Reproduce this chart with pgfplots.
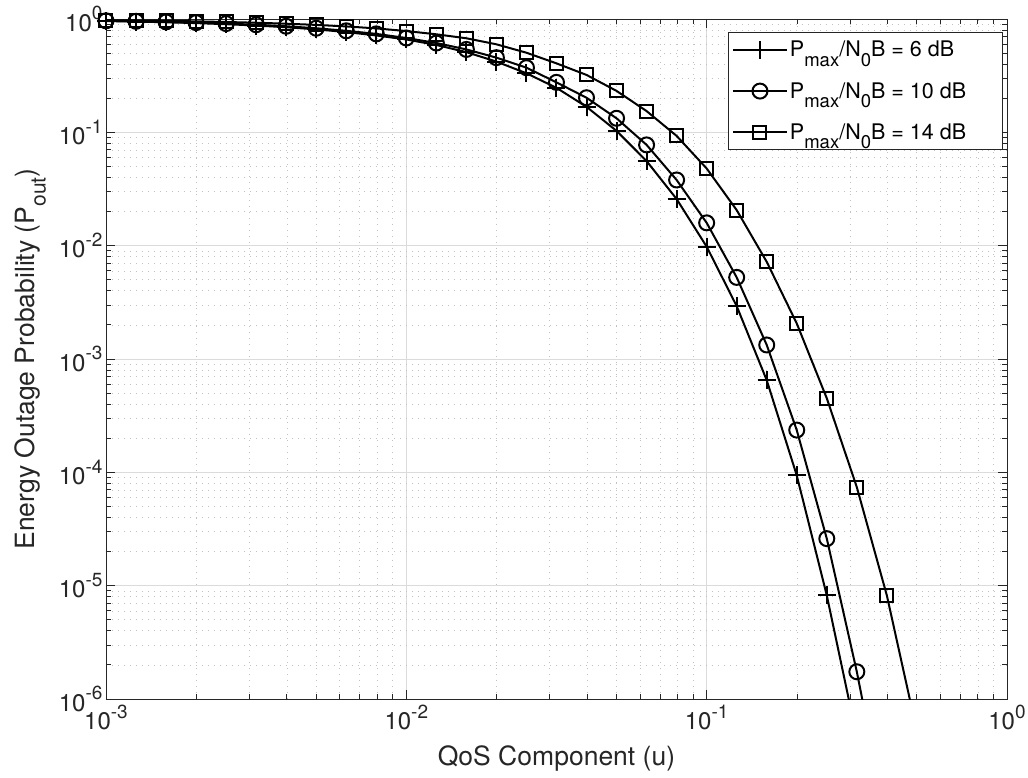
\documentclass[border=0pt]{standalone}
\usepackage{fontspec}
\setmainfont{TeX Gyre Heros}
\usepackage{pgfplots}
\usepackage{pgfplotstable}
\pgfplotsset{compat=1.18}
\definecolor{axc}{RGB}{38,38,38}
\newcommand{\tl}[1]{10\raisebox{0.48em}{\fontsize{19}{19}\selectfont #1}}
\newcommand{\lsub}[1]{\raisebox{-0.42em}{\fontsize{18.5}{18.5}\selectfont #1}}
\newcommand{\ysub}[1]{\raisebox{-0.42em}{\fontsize{21}{21}\selectfont #1}}

\pgfplotstableread{
u p
0.001 0.959
0.0012589 0.948
0.0015849 0.936
0.0019953 0.920
0.0025119 0.900
0.0031623 0.876
0.0039811 0.846
0.0050119 0.810
0.0063096 0.767
0.0079433 0.716
0.01 0.660
0.012589 0.590
0.015849 0.510
0.019953 0.421
0.025119 0.332
0.031623 0.247
0.039811 0.168
0.050119 0.103
0.063096 0.0558
0.079433 0.0258
0.1 0.0098
0.12589 0.00293
0.15849 6.5e-4
0.19953 9.4e-5
0.25119 8.2e-6
0.31623 4.6e-7
}\dataA

\pgfplotstableread{
u p
0.001 0.964
0.0012589 0.954
0.0015849 0.943
0.0019953 0.929
0.0025119 0.911
0.0031623 0.890
0.0039811 0.863
0.0050119 0.829
0.0063096 0.787
0.0079433 0.739
0.01 0.680
0.012589 0.614
0.015849 0.539
0.019953 0.456
0.025119 0.372
0.031623 0.276
0.039811 0.202
0.050119 0.133
0.063096 0.0775
0.079433 0.038
0.1 0.0159
0.12589 0.00525
0.15849 0.00133
0.19953 2.36e-4
0.25119 2.6e-5
0.31623 1.74e-6
0.39811 8e-8
}\dataB

\pgfplotstableread{
u p
0.001 0.976
0.0012589 0.970
0.0015849 0.963
0.0019953 0.953
0.0025119 0.941
0.0031623 0.927
0.0039811 0.909
0.0050119 0.887
0.0063096 0.860
0.0079433 0.826
0.01 0.783
0.012589 0.733
0.015849 0.676
0.019953 0.598
0.025119 0.504
0.031623 0.406
0.039811 0.321
0.050119 0.232
0.063096 0.154
0.079433 0.093
0.1 0.048
0.12589 0.0206
0.15849 0.0072
0.19953 0.00206
0.25119 4.5e-4
0.31623 7.4e-5
0.39811 8.2e-6
0.50119 5.2e-7
}\dataC

\begin{document}
\begin{tikzpicture}
\begin{loglogaxis}[
  scale only axis, width=901pt, height=680pt,
  xmin=1e-3, xmax=1, ymin=1e-6, ymax=1,
  xtick={1e-3,1e-2,1e-1,1},
  xticklabels={\tl{-3},\tl{-2},\tl{-1},\tl{0}},
  ytick={1e-6,1e-5,1e-4,1e-3,1e-2,1e-1,1},
  yticklabels={\tl{-6},\tl{-5},\tl{-4},\tl{-3},\tl{-2},\tl{-1},\tl{0}},
  minor xtick={0.002,0.003,0.004,0.005,0.006,0.007,0.008,0.009,
    0.02,0.03,0.04,0.05,0.06,0.07,0.08,0.09,
    0.2,0.3,0.4,0.5,0.6,0.7,0.8,0.9},
  minor ytick={2e-6,3e-6,4e-6,5e-6,6e-6,7e-6,8e-6,9e-6,
    2e-5,3e-5,4e-5,5e-5,6e-5,7e-5,8e-5,9e-5,
    2e-4,3e-4,4e-4,5e-4,6e-4,7e-4,8e-4,9e-4,
    2e-3,3e-3,4e-3,5e-3,6e-3,7e-3,8e-3,9e-3,
    2e-2,3e-2,4e-2,5e-2,6e-2,7e-2,8e-2,9e-2,
    0.2,0.3,0.4,0.5,0.6,0.7,0.8,0.9},
  tick align=inside,
  major tick length=9pt, minor tick length=5pt,
  every tick/.style={axc, line width=0.8pt},
  axis line style={axc, line width=0.8pt},
  grid=both,
  major grid style={black!14, line width=0.7pt, solid},
  minor grid style={black!24, line width=0.6pt, dash pattern=on 1pt off 5pt},
  tick label style={font=\fontsize{24}{24}\selectfont, text=axc},
  xticklabel style={yshift=-2pt},
  label style={font=\fontsize{26.5}{26.5}\selectfont, text=axc},
  xlabel shift=9pt,
  ylabel shift=6pt,
  xlabel={QoS Component (u)},
  ylabel={Energy Outage Probability (P\ysub{out})},
  legend style={at={(0.995,0.981)}, anchor=north east, draw=axc, line width=0.8pt,
    fill=white, font=\fontsize{21.5}{21.5}\selectfont, text=black,
    inner xsep=4pt, inner ysep=7pt, row sep=20pt},
  legend cell align=left,
]
\addplot[black, line width=2pt,
  legend image code/.code={\draw[black, line width=2pt, mark=+, mark size=9pt, mark repeat=2, mark phase=2]
    plot coordinates {(0pt,0pt)(27pt,0pt)(54pt,0pt)};}]
  table[x=u,y=p]{\dataA};
\addlegendentry{P\lsub{max}/N\lsub{0}B = 6 dB\hspace*{30pt}}
\addplot[black, line width=2pt,
  legend image code/.code={\draw[black, line width=2pt, mark=o, mark size=7.5pt, mark repeat=2, mark phase=2]
    plot coordinates {(0pt,0pt)(27pt,0pt)(54pt,0pt)};}]
  table[x=u,y=p]{\dataB};
\addlegendentry{P\lsub{max}/N\lsub{0}B = 10 dB\hspace*{30pt}}
\addplot[black, line width=2pt,
  legend image code/.code={\draw[black, line width=2pt, mark=square, mark size=6.5pt, mark repeat=2, mark phase=2]
    plot coordinates {(0pt,0pt)(27pt,0pt)(54pt,0pt)};}]
  table[x=u,y=p]{\dataC};
\addlegendentry{P\lsub{max}/N\lsub{0}B = 14 dB\hspace*{30pt}}
\addplot[black, line width=2pt, only marks, mark=+, mark size=9pt, forget plot,
  skip coords between index={25}{40}] table[x=u,y=p]{\dataA};
\addplot[black, line width=2pt, only marks, mark=o, mark size=7.5pt, forget plot,
  skip coords between index={26}{40}] table[x=u,y=p]{\dataB};
\addplot[black, line width=2pt, only marks, mark=square, mark size=6.5pt, forget plot,
  skip coords between index={27}{40}] table[x=u,y=p]{\dataC};
\end{loglogaxis}
\pgfresetboundingbox
\path (current axis.south west) ++(-106pt,-79pt) rectangle ++(1028pt,778pt);
\end{tikzpicture}
\end{document}
